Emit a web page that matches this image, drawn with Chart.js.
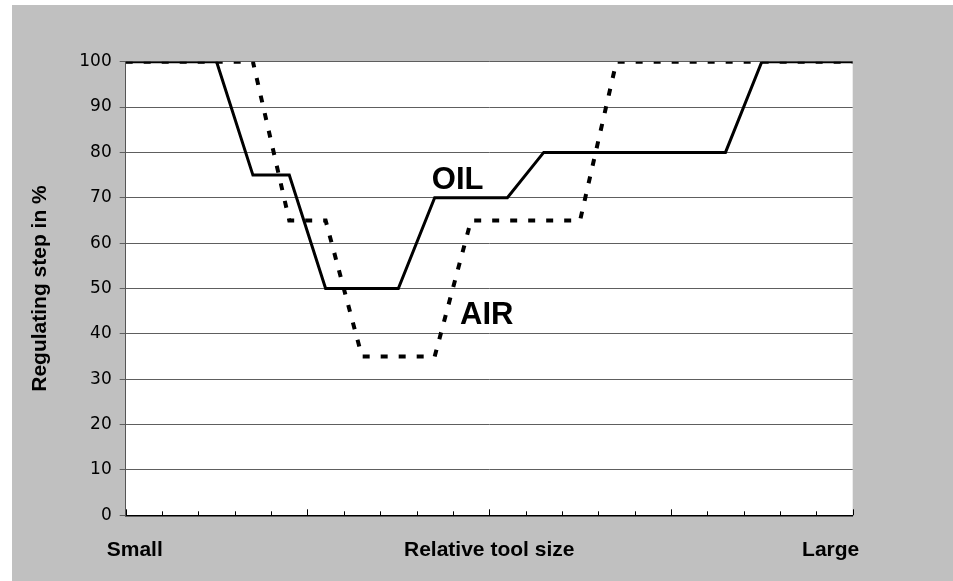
<!DOCTYPE html>
<html>
<head>
<meta charset="utf-8">
<script src="https://cdn.jsdelivr.net/npm/chart.js@4.4.1/dist/chart.umd.min.js"></script>
<style>
	body { margin: 0; background: #fff; }
	#wrap { position: absolute; left: 12px; top: 5px; width: 941px; height: 576px; background: #c0c0c0; }
</style>
</head>
<body>
<div id="wrap"><canvas id="c"></canvas></div>
<script>
// relative tool size (0 = small, 100 = large) and regulating step in %
const oilX = [0, 12.5, 17.5, 22.5, 27.5, 37.5, 42.5, 52.5, 57.5, 82.5, 87.5, 100];
const oilY = [100, 100, 75, 75, 50, 50, 70, 70, 80, 80, 100, 100];
const airX = [0, 17.5, 22.5, 27.5, 32.5, 42.5, 47.5, 62.5, 67.5, 100];
const airY = [100, 100, 65, 65, 35, 35, 65, 65, 100, 100];

const sizeLabels = ["Small", "Relative tool size", "Large"];
const curveNames = ["OIL", "AIR"];
const curveNameX = [42.1, 46];
const curveNameY = [72, 42.2];

const boldFont = "'Liberation Sans', Arial, sans-serif";

function points(xs, ys) {
	return xs.map((x, i) => ({ x, y: ys[i] }));
}

const decor = {
	id: "decor",
	beforeDraw(chart) {
		const { ctx, chartArea: a } = chart;
		ctx.save();
		ctx.fillStyle = "#fff";
		ctx.fillRect(a.left, a.top, a.right - a.left, a.bottom - a.top);
		ctx.restore();
	},
	afterDraw(chart) {
		const { ctx, chartArea: a, scales: { x, y } } = chart;
		ctx.save();

		// small tick marks on the x axis, pointing into the plot
		ctx.strokeStyle = "#000";
		ctx.lineWidth = 1;
		for (let v = 0; v <= 100; v += 5) {
			const px = Math.round(x.getPixelForValue(v)) + 0.5;
			const len = v % 25 === 0 ? 6 : 4;
			ctx.beginPath();
			ctx.moveTo(px, a.bottom);
			ctx.lineTo(px, a.bottom - len);
			ctx.stroke();
		}

		ctx.fillStyle = "#000";
		ctx.font = "bold 21px " + boldFont;
		ctx.textBaseline = "middle";
		const ty = x.bottom - 30.6;
		ctx.textAlign = "left";
		ctx.fillText(sizeLabels[0], a.left - 19, ty);
		ctx.textAlign = "right";
		ctx.fillText(sizeLabels[2], a.right + 6.6, ty);

		ctx.font = "bold 31px " + boldFont;
		ctx.textAlign = "left";
		ctx.textBaseline = "alphabetic";
		curveNames.forEach((t, i) =>
			ctx.fillText(t, x.getPixelForValue(curveNameX[i]), y.getPixelForValue(curveNameY[i]))
		);
		ctx.restore();
	}
};

new Chart(document.getElementById("c"), {
	type: "line",
	data: {
		datasets: [
			{
				label: "AIR",
				data: points(airX, airY),
				borderColor: "#000",
				borderWidth: 4,
				borderDash: [7, 11],
				borderCapStyle: "butt",
				pointRadius: 0
			},
			{
				label: "OIL",
				data: points(oilX, oilY),
				borderColor: "#000",
				borderWidth: 3,
				pointRadius: 0
			}
		]
	},
	options: {
		responsive: true,
		maintainAspectRatio: false,
		animation: false,
		layout: {
			padding: { left: 0, top: 56.7, right: 100.3, bottom: 0 }
		},
		elements: { line: { tension: 0 } },
		scales: {
			x: {
				type: "linear",
				min: 0,
				max: 100,
				grid: { display: false },
				border: { display: true, color: "#000", width: 1.5 },
				ticks: { display: false },
				title: {
					display: true,
					text: sizeLabels[1],
					color: "#000",
					font: { family: boldFont, size: 21, weight: "bold" },
					padding: { top: 0, bottom: 18 }
				},
				afterFit: s => { s.height = 65.7; }
			},
			y: {
				min: 0,
				max: 100,
				grid: { color: "#5e5e5e", lineWidth: 1, tickLength: 6 },
				border: { color: "#555", width: 1 },
				ticks: {
					stepSize: 10,
					color: "#000",
					padding: 8,
					font: { family: "'DejaVu Sans', sans-serif", size: 17 }
				},
				title: {
					display: true,
					text: "Regulating step in %",
					color: "#000",
					font: { family: boldFont, size: 21, weight: "bold" },
					padding: { top: 15.4, bottom: 0 }
				},
				afterFit: s => { s.width = 113.7; }
			}
		},
		plugins: {
			legend: { display: false },
			tooltip: { enabled: false }
		}
	},
	plugins: [decor]
});
</script>
</body>
</html>
